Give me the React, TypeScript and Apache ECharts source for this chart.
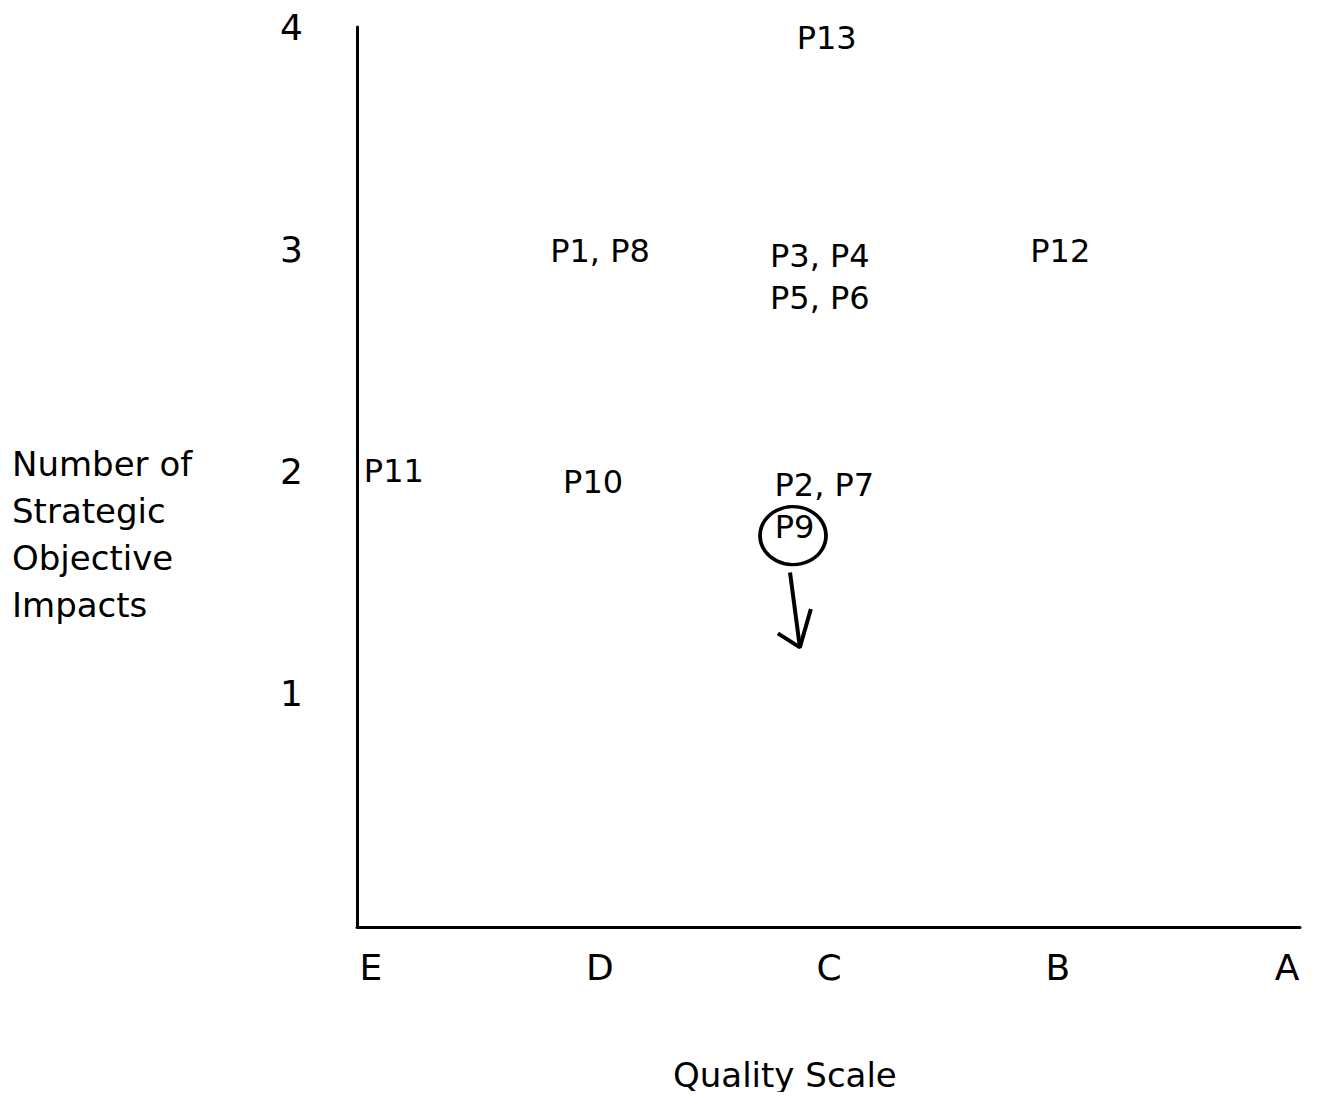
import React, { useEffect, useRef } from "react";
import * as echarts from "echarts";

// Quality scale categories (index 0..4 on the x value axis)
const qualityLabels = ["E", "D", "C", "B", "A"];
const qualityTicks = [0, 1, 2, 3, 4];
// Number of strategic objective impacts
const impactTicks = [1, 2, 3, 4];

// Project labels as placed in the plot (x = quality index, y = impacts)
const projectNames = ["P13", "P1, P8", "P3, P4", "P5, P6", "P12", "P11", "P10", "P2, P7", "P9"];
const projectX = [1.99, 1.0, 1.96, 1.96, 3.01, 0.1, 0.97, 1.98, 1.85];
const projectY = [3.95, 2.99, 2.97, 2.78, 2.99, 2.0, 1.95, 1.94, 1.75];

// Hand-drawn annotation around P9
const circleCenter = [1.843, 1.71];
const arrowShaft = [
  [1.83, 1.544],
  [1.873, 1.207],
];
const arrowHead = [
  [1.777, 1.27],
  [1.873, 1.207],
  [1.921, 1.38],
];

const yAxisTitle = "Number of\nStrategic\nObjective\nImpacts";
const xAxisTitle = "Quality Scale";

const FONT = "DejaVu Sans";

export default function App() {
  const ref = useRef<HTMLDivElement>(null);
  useEffect(() => {
    if (!ref.current) return;
    const chart = echarts.init(ref.current, undefined, { renderer: "svg" });
    chart.setOption({
      animation: false,
      backgroundColor: "#fff",
      title: {
        text: yAxisTitle,
        left: 4,
        top: 432,
        padding: 0,
        textStyle: {
          fontFamily: FONT,
          fontSize: 34,
          fontWeight: "normal",
          color: "#000",
          lineHeight: 47,
        },
      },
      graphic: [
        {
          type: "text",
          x: 665,
          y: 1067,
          style: {
            text: xAxisTitle,
            fontFamily: FONT,
            fontSize: 34,
            lineHeight: 36,
            verticalAlign: "middle",
            fill: "#000",
          },
        },
      ],
      grid: { left: 349, top: 19, right: 9, bottom: 173, containLabel: false },
      xAxis: {
        type: "value",
        min: -0.061,
        max: 4.057,
        splitLine: { show: false },
        axisLine: { show: true, onZero: false, lineStyle: { color: "#000", width: 3 } },
        axisTick: { show: false },
        axisLabel: {
          customValues: qualityTicks,
          formatter: (v: number) => qualityLabels[Math.round(v)] ?? "",
          fontFamily: FONT,
          fontSize: 36,
          color: "#000",
          margin: 22,
        },
      },
      yAxis: {
        type: "value",
        min: -0.052,
        max: 4,
        splitLine: { show: false },
        axisLine: { show: true, onZero: false, lineStyle: { color: "#000", width: 3 } },
        axisTick: { show: false },
        axisLabel: {
          customValues: impactTicks,
          formatter: (v: number) => String(Math.round(v)),
          fontFamily: FONT,
          fontSize: 36,
          color: "#000",
          margin: 54,
        },
      },
      series: [
        {
          type: "scatter",
          symbolSize: 1,
          itemStyle: { color: "rgba(0,0,0,0)", opacity: 1 },
          data: projectNames.map((n, i) => ({ name: n, value: [projectX[i], projectY[i]] })),
          label: {
            show: true,
            position: "inside",
            formatter: (p: any) => p.name,
            fontFamily: FONT,
            fontSize: 32,
            color: "#000",
          },
          z: 5,
        },
        {
          type: "scatter",
          symbol: "circle",
          symbolSize: [66, 58],
          itemStyle: { color: "rgba(0,0,0,0)", borderColor: "#000", borderWidth: 3.5, opacity: 1 },
          data: [circleCenter],
          z: 4,
        },
        {
          type: "line",
          symbol: "none",
          data: arrowShaft,
          lineStyle: { color: "#000", width: 4 },
        },
        {
          type: "line",
          symbol: "none",
          data: arrowHead,
          lineStyle: { color: "#000", width: 4 },
        },
      ],
    });
    return () => chart.dispose();
  }, []);
  return <div ref={ref} style={{ width: 1301, height: 1092, marginBottom: -8 }} />;
}
